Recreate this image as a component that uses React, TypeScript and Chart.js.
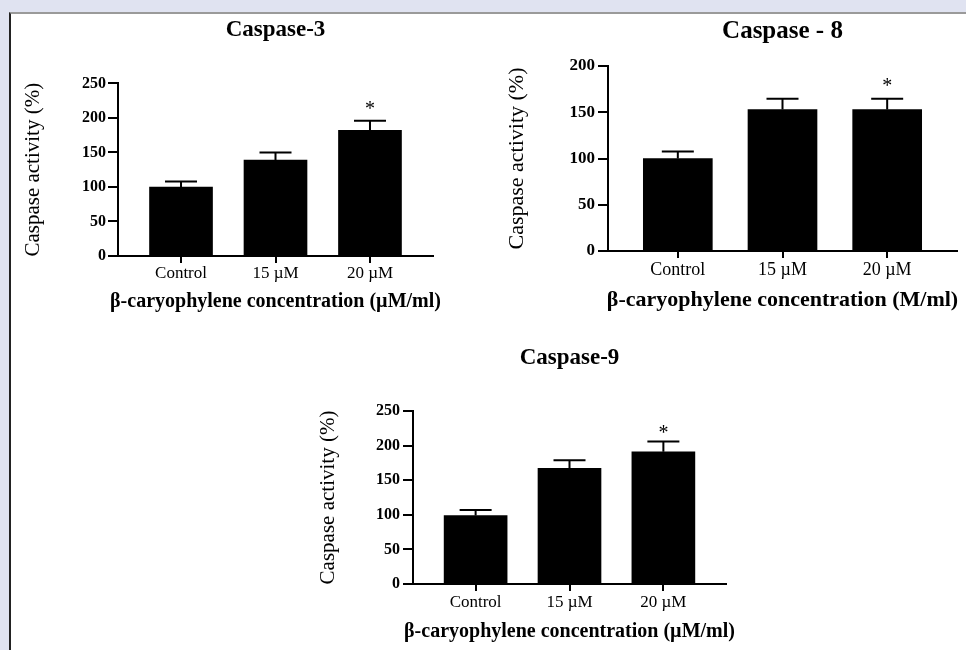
import React, { useEffect, useRef } from "react";
import { Chart, registerables } from "chart.js";

Chart.register(...registerables);

// ---------- data ----------
const categories = ["Control", "15 µM", "20 µM"];

const casp3Values = [100, 139, 182];
const casp3Errors = [8, 11, 14];
const casp3Marks = ["", "", "*"];
const casp3Ticks = [0, 50, 100, 150, 200, 250];

const casp8Values = [100, 153, 153];
const casp8Errors = [7.5, 11.5, 11.5];
const casp8Marks = ["", "", "*"];
const casp8Ticks = [0, 50, 100, 150, 200];

const casp9Values = [99, 167, 191];
const casp9Errors = [8, 12, 15];
const casp9Marks = ["", "", "*"];
const casp9Ticks = [0, 50, 100, 150, 200, 250];

const casp3Title = "Caspase-3";
const casp8Title = "Caspase - 8";
const casp9Title = "Caspase-9";
const yTitle = "Caspase activity (%)";
const xTitleUM = "β-caryophylene concentration (µM/ml)";
const xTitleM = "β-caryophylene concentration (M/ml)";

const SERIF = "'Liberation Serif', 'Times New Roman', serif";

type Spec = {
  title: string;
  values: number[];
  errors: number[];
  marks: string[];
  yTicks: number[];
  xTitle: string;
  left: number;
  top: number;
  width: number;
  height: number;
  padRight: number;
  padBottom: number;
  padTop: number;
  titleSize: number;
  titleY: number;
  yWidth: number;
  yTitleSize: number;
  yTitlePadTop: number;
  yTickSize: number;
  yTickPad: number;
  xHeight: number;
  xTitleSize: number;
  xTitleY: number;
  xTickSize: number;
  xTickPad: number;
  barThickness: number;
  starOffset: number;
};

function BarPanel({ spec }: { spec: Spec }) {
  const ref = useRef<HTMLCanvasElement | null>(null);
  useEffect(() => {
    if (!ref.current) return;
    const s = spec;
    const errorPlugin = {
      id: "errbars",
      afterDatasetsDraw(chart: any) {
        const ctx = chart.ctx;
        const xs = chart.scales.x;
        const ys = chart.scales.y;
        ctx.save();
        ctx.strokeStyle = "#000";
        ctx.lineWidth = 2;
        s.values.forEach((v, i) => {
          const x = xs.getPixelForValue(i);
          const yb = ys.getPixelForValue(v);
          const yt = ys.getPixelForValue(v + s.errors[i]);
          ctx.beginPath();
          ctx.moveTo(x, yb);
          ctx.lineTo(x, yt);
          ctx.moveTo(x - 16, yt);
          ctx.lineTo(x + 16, yt);
          ctx.stroke();
          if (s.marks[i]) {
            ctx.fillStyle = "#000";
            ctx.font = `20px ${SERIF}`;
            ctx.textAlign = "center";
            ctx.textBaseline = "alphabetic";
            ctx.fillText(s.marks[i], x, yt - s.starOffset + 9);
          }
        });
        ctx.restore();
      },
    };
    const textPlugin = {
      id: "paneltext",
      afterDraw(chart: any) {
        const ctx = chart.ctx;
        const area = chart.chartArea;
        const cx = (area.left + area.right) / 2;
        ctx.save();
        ctx.fillStyle = "#000";
        ctx.textAlign = "center";
        ctx.textBaseline = "middle";
        ctx.font = `bold ${s.titleSize}px ${SERIF}`;
        ctx.fillText(s.title, cx, s.titleY);
        ctx.font = `bold ${s.xTitleSize}px ${SERIF}`;
        ctx.fillText(s.xTitle, cx, s.xTitleY);
        ctx.restore();
      },
    };
    const chart = new Chart(ref.current, {
      type: "bar",
      data: {
        datasets: [
          {
            data: s.values.map((v, i) => ({ x: i, y: v })),
            backgroundColor: "#000",
            borderWidth: 0,
            barThickness: s.barThickness,
          },
        ],
      },
      options: {
        responsive: false,
        animation: false,
        devicePixelRatio: 1,
        layout: { padding: { left: 0, top: s.padTop, right: s.padRight, bottom: s.padBottom } },
        plugins: {
          legend: { display: false },
          tooltip: { enabled: false },
          title: { display: false },
        },
        scales: {
          x: {
            type: "linear",
            offset: false,
            min: -0.667,
            max: categories.length - 1 + 0.667,
            afterBuildTicks: (scale: any) => {
              scale.ticks = categories.map((_, i) => ({ value: i }));
            },
            afterFit: (scale: any) => {
              scale.height = s.xHeight;
            },
            ticks: {
              autoSkip: false,
              maxRotation: 0,
              color: "#000",
              padding: s.xTickPad,
              font: { family: SERIF, size: s.xTickSize },
              callback: (v: any) => categories[Math.round(Number(v))] ?? "",
            },
            grid: {
              display: true,
              offset: false,
              drawOnChartArea: false,
              drawTicks: true,
              tickLength: 7,
              color: "#000",
              lineWidth: 2,
            },
            border: { display: true, color: "#000", width: 2 },
            title: { display: false },
          },
          y: {
            type: "linear",
            min: s.yTicks[0],
            max: s.yTicks[s.yTicks.length - 1],
            afterBuildTicks: (scale: any) => {
              scale.ticks = s.yTicks.map((t) => ({ value: t }));
            },
            afterFit: (scale: any) => {
              scale.width = s.yWidth;
            },
            ticks: {
              color: "#000",
              padding: s.yTickPad,
              font: { family: SERIF, size: s.yTickSize, weight: "bold" },
            },
            grid: {
              display: true,
              drawOnChartArea: false,
              drawTicks: true,
              tickLength: 10,
              color: "#000",
              lineWidth: 2,
            },
            border: { display: true, color: "#000", width: 2 },
            title: {
              display: true,
              text: yTitle,
              color: "#000",
              font: { family: SERIF, size: s.yTitleSize, weight: "normal" },
              padding: { top: s.yTitlePadTop, bottom: 0 },
            },
          },
        },
      } as any,
      plugins: [errorPlugin, textPlugin],
    });
    return () => chart.destroy();
  }, [spec]);
  return (
    <canvas
      ref={ref}
      width={spec.width}
      height={spec.height}
      style={{
        position: "absolute",
        left: spec.left,
        top: spec.top,
        width: spec.width,
        height: spec.height,
      }}
    />
  );
}

const spec3: Spec = {
  title: casp3Title,
  values: casp3Values,
  errors: casp3Errors,
  marks: casp3Marks,
  yTicks: casp3Ticks,
  xTitle: xTitleUM,
  left: 10,
  top: 14,
  width: 450,
  height: 300,
  padRight: 27,
  padBottom: 1,
  padTop: 69.4,
  titleSize: 23,
  titleY: 16,
  yWidth: 108,
  yTitleSize: 21,
  yTitlePadTop: 10.4,
  yTickSize: 16,
  yTickPad: 2,
  xHeight: 57,
  xTitleSize: 20,
  xTitleY: 288,
  xTickSize: 17,
  xTickPad: 0,
  barThickness: 63,
  starOffset: 15,
};

const spec8: Spec = {
  title: casp8Title,
  values: casp8Values,
  errors: casp8Errors,
  marks: casp8Marks,
  yTicks: casp8Ticks,
  xTitle: xTitleM,
  left: 490,
  top: 14,
  width: 476,
  height: 300,
  padRight: 9,
  padBottom: 1,
  padTop: 52,
  titleSize: 25,
  titleY: 18,
  yWidth: 118,
  yTitleSize: 22,
  yTitlePadTop: 13.8,
  yTickSize: 17,
  yTickPad: 3,
  xHeight: 62,
  xTitleSize: 22,
  xTitleY: 286,
  xTickSize: 18,
  xTickPad: 1.2,
  barThickness: 69,
  starOffset: 16,
};

const spec9: Spec = {
  title: casp9Title,
  values: casp9Values,
  errors: casp9Errors,
  marks: casp9Marks,
  yTicks: casp9Ticks,
  xTitle: xTitleUM,
  left: 300,
  top: 330,
  width: 460,
  height: 320,
  padRight: 34,
  padBottom: 0,
  padTop: 81,
  titleSize: 23,
  titleY: 28,
  yWidth: 113,
  yTitleSize: 21,
  yTitlePadTop: 15.4,
  yTickSize: 16,
  yTickPad: 3,
  xHeight: 66,
  xTitleSize: 20,
  xTitleY: 302,
  xTickSize: 17,
  xTickPad: 1.8,
  barThickness: 63,
  starOffset: 11,
};

export default function App() {
  return (
    <div
      style={{
        position: "absolute",
        left: 0,
        top: 0,
        width: 966,
        height: 650,
        background: "#e0e3f1",
        overflow: "hidden",
      }}
    >
      <div
        style={{
          position: "absolute",
          left: 9,
          top: 12,
          right: 0,
          bottom: 0,
          background: "#fff",
          borderLeft: "2px solid #222",
          borderTop: "2px solid #9a9a9a",
        }}
      />
      <BarPanel spec={spec3} />
      <BarPanel spec={spec8} />
      <BarPanel spec={spec9} />
    </div>
  );
}
